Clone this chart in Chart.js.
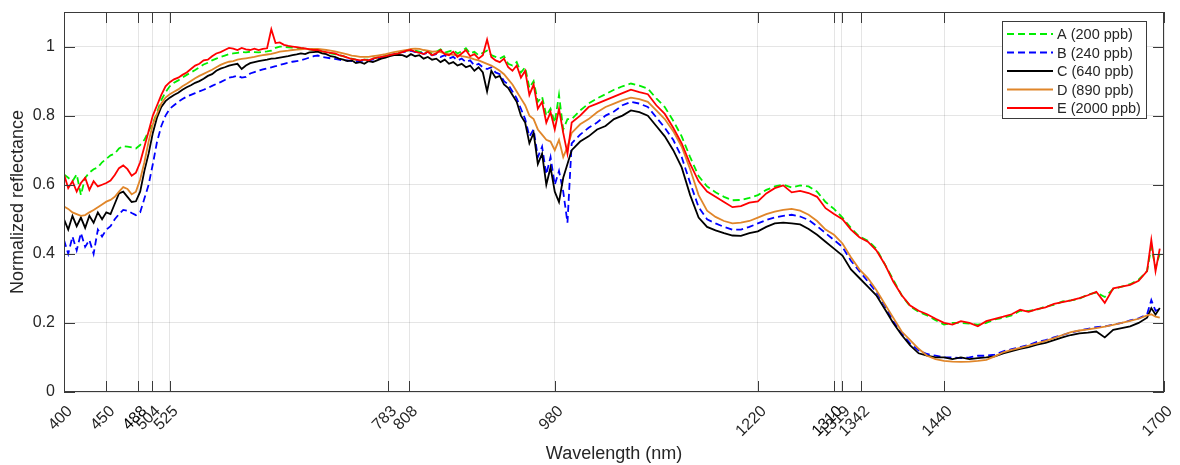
<!DOCTYPE html>
<html>
<head>
<meta charset="utf-8">
<script src="https://cdn.jsdelivr.net/npm/chart.js@4.4.0/dist/chart.umd.min.js"></script>
<style>
  html, body { margin: 0; padding: 0; background: #fff; }
  #wrap { width: 1180px; height: 465px; }
</style>
</head>
<body>
<div id="wrap"><canvas id="spectra" width="1180" height="465"></canvas></div>
<script>
// Wavelength grid (nm): visible detector every 5 nm, NIR detector every 10 nm
const wlVis = [];
for (let w = 400; w <= 995; w += 5) wlVis.push(w);
const wlNir = [];
for (let w = 1000; w <= 1680; w += 10) wlNir.push(w);
wlNir.push(1685, 1690, 1695);

const xTicks = [400, 450, 488, 504, 525, 783, 808, 980, 1220, 1310, 1319, 1342, 1440, 1700];
const yTicks = [0, 0.2, 0.4, 0.6, 0.8, 1];
const darkTicks = [488, 1310];

// A (200 ppb) - green dashed
const aVis = [
  0.63, 0.62, 0.61, 0.63, 0.57, 0.62, 0.635, 0.645, 0.65, 0.665,
  0.675, 0.685, 0.69, 0.705, 0.712, 0.71, 0.708, 0.705, 0.715, 0.73,
  0.755, 0.778, 0.81, 0.845, 0.868, 0.885, 0.895, 0.902, 0.91, 0.918,
  0.925, 0.932, 0.94, 0.948, 0.953, 0.96, 0.965, 0.97, 0.974, 0.978,
  0.98, 0.982, 0.984, 0.983, 0.985, 0.984, 0.983, 0.985, 0.986, 0.988,
  0.996, 1.0, 0.999, 0.998, 0.997, 0.996, 0.995, 0.994, 0.992, 0.99,
  0.988, 0.986, 0.984, 0.98, 0.978, 0.975, 0.972, 0.968, 0.965, 0.962,
  0.96, 0.962, 0.962, 0.965, 0.968, 0.97, 0.973, 0.976, 0.978, 0.98,
  0.985, 0.988, 0.99, 0.988, 0.985, 0.982, 0.986, 0.98, 0.985, 0.992,
  0.982, 0.986, 0.99, 0.98, 0.986, 0.995, 0.98, 0.985, 0.975, 0.982,
  0.988, 0.975, 0.97, 0.965, 0.972, 0.95, 0.945, 0.955, 0.925, 0.94,
  0.88, 0.90, 0.84, 0.855, 0.80, 0.82, 0.78, 0.86, 0.76, 0.79
];
const aNir = [
  0.79, 0.815, 0.835, 0.85, 0.862, 0.875, 0.885, 0.893, 0.887, 0.878,
  0.85, 0.825, 0.785, 0.74, 0.68, 0.625, 0.595, 0.578, 0.565, 0.555,
  0.556, 0.562, 0.57, 0.585, 0.595, 0.60, 0.592, 0.598, 0.595, 0.58,
  0.55, 0.53, 0.505, 0.475, 0.45, 0.438, 0.415, 0.37, 0.325, 0.28,
  0.248, 0.232, 0.222, 0.208, 0.195, 0.2, 0.2, 0.198, 0.195, 0.2,
  0.21, 0.215, 0.222, 0.235, 0.235, 0.238, 0.248, 0.252, 0.262, 0.265,
  0.27, 0.282, 0.288, 0.275, 0.298, 0.305, 0.312, 0.325, 0.35,
  0.42, 0.36, 0.40
];

// B (240 ppb) - blue dashed
const bVis = [
  0.44, 0.40, 0.45, 0.41, 0.46, 0.42, 0.44, 0.40, 0.47, 0.45,
  0.47, 0.48, 0.50, 0.515, 0.527, 0.525, 0.518, 0.512, 0.52, 0.56,
  0.60, 0.66, 0.725, 0.77, 0.80, 0.82, 0.83, 0.84, 0.848, 0.855,
  0.86, 0.865, 0.87, 0.875, 0.88, 0.886, 0.892, 0.897, 0.903, 0.91,
  0.912, 0.916, 0.91, 0.912, 0.922, 0.926, 0.93, 0.934, 0.937, 0.94,
  0.943, 0.947, 0.95, 0.953, 0.956, 0.958, 0.96, 0.964, 0.968, 0.972,
  0.974, 0.97, 0.968, 0.966, 0.964, 0.962, 0.96, 0.96, 0.958, 0.958,
  0.958, 0.96, 0.96, 0.962, 0.965, 0.968, 0.97, 0.975, 0.978, 0.982,
  0.984, 0.986, 0.988, 0.984, 0.985, 0.978, 0.982, 0.975, 0.978, 0.97,
  0.975, 0.965, 0.97, 0.96, 0.965, 0.955, 0.96, 0.945, 0.95, 0.94,
  0.935, 0.94, 0.925, 0.92, 0.90, 0.89, 0.87, 0.85, 0.82, 0.79,
  0.74, 0.76, 0.68, 0.71, 0.63, 0.68, 0.60, 0.64, 0.58, 0.49
];
const bNir = [
  0.72, 0.745, 0.765, 0.78, 0.80, 0.812, 0.83, 0.84, 0.835, 0.825,
  0.795, 0.765, 0.73, 0.68, 0.605, 0.535, 0.5, 0.488, 0.478, 0.47,
  0.47, 0.478, 0.488, 0.498, 0.505, 0.51, 0.513, 0.508, 0.498, 0.48,
  0.46, 0.44, 0.42, 0.38, 0.35, 0.32, 0.29, 0.25, 0.205, 0.17,
  0.14, 0.12, 0.11, 0.105, 0.1, 0.1, 0.098, 0.1, 0.105, 0.105,
  0.108, 0.118, 0.124, 0.13, 0.136, 0.145, 0.15, 0.158, 0.165, 0.172,
  0.178, 0.183, 0.188, 0.19, 0.195, 0.2, 0.207, 0.213, 0.225,
  0.266, 0.235, 0.24
];

// C (640 ppb) - black
const cVis = [
  0.50, 0.47, 0.51, 0.48, 0.505, 0.475, 0.51, 0.49, 0.52, 0.50,
  0.52, 0.515, 0.545, 0.575, 0.58, 0.565, 0.55, 0.552, 0.58, 0.64,
  0.69, 0.75, 0.795, 0.825, 0.842, 0.852, 0.86, 0.866, 0.875, 0.882,
  0.888, 0.895, 0.9, 0.907, 0.915, 0.92, 0.93, 0.936, 0.94, 0.945,
  0.948, 0.95, 0.935, 0.945, 0.952, 0.955, 0.958, 0.96, 0.962, 0.965,
  0.966, 0.968, 0.97, 0.972, 0.975, 0.977, 0.98, 0.978, 0.983, 0.984,
  0.985, 0.98, 0.978, 0.972, 0.97, 0.965, 0.962, 0.958, 0.96, 0.952,
  0.955, 0.95, 0.958, 0.955, 0.96, 0.965, 0.968, 0.972, 0.975, 0.976,
  0.975, 0.97, 0.978, 0.972, 0.975, 0.965, 0.97, 0.962, 0.965, 0.955,
  0.962, 0.95, 0.955, 0.945, 0.95, 0.94, 0.945, 0.93, 0.94, 0.925,
  0.87, 0.93, 0.91, 0.915, 0.89, 0.88, 0.86, 0.84, 0.80, 0.78,
  0.72, 0.75, 0.66, 0.69, 0.60, 0.65, 0.58, 0.55, 0.62, 0.66
];
const cNir = [
  0.70, 0.725, 0.74, 0.76, 0.77, 0.79, 0.80, 0.815, 0.81, 0.80,
  0.77, 0.74, 0.70, 0.65, 0.57, 0.505, 0.478, 0.468, 0.46, 0.453,
  0.452, 0.46, 0.465, 0.478, 0.488, 0.49, 0.488, 0.485, 0.472, 0.455,
  0.435, 0.415, 0.395, 0.355, 0.33, 0.305, 0.28, 0.24, 0.2, 0.165,
  0.135, 0.112, 0.105, 0.1, 0.1, 0.095, 0.1, 0.095, 0.098, 0.1,
  0.103, 0.112, 0.118, 0.125, 0.13, 0.137, 0.142, 0.15, 0.158, 0.165,
  0.17, 0.172, 0.175, 0.158, 0.18, 0.185, 0.19, 0.2, 0.215,
  0.243, 0.224, 0.243
];

// D (890 ppb) - orange
const dVis = [
  0.537, 0.53, 0.52, 0.515, 0.51, 0.512, 0.52, 0.527, 0.535, 0.543,
  0.551, 0.556, 0.565, 0.58, 0.593, 0.588, 0.572, 0.58, 0.615, 0.665,
  0.725, 0.775, 0.806, 0.835, 0.852, 0.862, 0.869, 0.876, 0.885, 0.892,
  0.9, 0.908, 0.915, 0.921, 0.927, 0.933, 0.94, 0.947, 0.952, 0.956,
  0.958, 0.962, 0.964, 0.966, 0.968, 0.97, 0.973, 0.975, 0.977, 0.979,
  0.982, 0.985, 0.987, 0.988, 0.99, 0.991, 0.992, 0.993, 0.993, 0.993,
  0.993, 0.992, 0.99, 0.988, 0.986, 0.983, 0.98, 0.977, 0.974, 0.972,
  0.97, 0.97, 0.97, 0.972, 0.974, 0.976, 0.978, 0.981, 0.984, 0.986,
  0.988, 0.99, 0.993, 0.994, 0.993, 0.99, 0.988, 0.985, 0.986, 0.984,
  0.98, 0.978, 0.976, 0.975, 0.972, 0.97, 0.967, 0.963, 0.96, 0.955,
  0.95, 0.945, 0.938, 0.93, 0.92, 0.905, 0.89, 0.87, 0.85, 0.83,
  0.80, 0.79, 0.76, 0.745, 0.73, 0.725, 0.70, 0.73, 0.68, 0.71
];
const dNir = [
  0.75, 0.775, 0.79, 0.81, 0.825, 0.835, 0.845, 0.852, 0.848, 0.84,
  0.815, 0.79, 0.755, 0.71, 0.645, 0.57, 0.525, 0.507, 0.495, 0.488,
  0.49, 0.495, 0.505, 0.515, 0.522, 0.527, 0.53, 0.525, 0.513, 0.495,
  0.47, 0.455, 0.43, 0.39, 0.355, 0.33, 0.295, 0.255, 0.215, 0.175,
  0.15, 0.125, 0.105, 0.095, 0.09, 0.088, 0.087, 0.088, 0.09, 0.093,
  0.103, 0.115, 0.122, 0.128, 0.134, 0.141, 0.148, 0.156, 0.165, 0.173,
  0.178, 0.181, 0.185, 0.189, 0.194, 0.2, 0.206, 0.212, 0.222,
  0.225, 0.218, 0.215
];

// E (2000 ppb) - red
const eVis = [
  0.63, 0.59, 0.61, 0.58, 0.605, 0.62, 0.585, 0.61, 0.595, 0.60,
  0.605, 0.612, 0.628, 0.648, 0.656, 0.645, 0.626, 0.635, 0.665, 0.71,
  0.755, 0.80, 0.83, 0.86, 0.885, 0.897, 0.905, 0.91, 0.918, 0.925,
  0.935, 0.945, 0.95, 0.96, 0.962, 0.972, 0.98, 0.984, 0.99, 0.996,
  0.994, 0.99, 0.996, 0.992, 0.99, 0.994, 0.99, 0.993, 0.995, 1.05,
  1.01, 1.012, 1.005, 1.002, 1.0, 0.998, 0.996, 0.995, 0.992, 0.99,
  0.99, 0.986, 0.984, 0.982, 0.98, 0.975, 0.972, 0.968, 0.964, 0.962,
  0.96, 0.962, 0.96, 0.965, 0.968, 0.97, 0.972, 0.975, 0.978, 0.98,
  0.984, 0.988, 0.99, 0.985, 0.982, 0.978, 0.985, 0.975, 0.98, 0.99,
  0.978, 0.975, 0.985, 0.97, 0.98, 0.99, 0.972, 0.978, 0.965, 0.975,
  1.02, 0.97, 0.96, 0.955, 0.965, 0.94, 0.93, 0.945, 0.91, 0.93,
  0.86, 0.89, 0.82, 0.84, 0.78, 0.81, 0.76, 0.82, 0.75, 0.69
];
const eNir = [
  0.78, 0.80, 0.825, 0.835, 0.845, 0.855, 0.865, 0.875, 0.868, 0.862,
  0.83, 0.805, 0.765, 0.72, 0.66, 0.61, 0.58, 0.565, 0.55, 0.535,
  0.538, 0.548, 0.552, 0.575, 0.59, 0.598, 0.578, 0.582, 0.576, 0.565,
  0.532, 0.515, 0.50, 0.47, 0.448, 0.435, 0.41, 0.37, 0.32, 0.28,
  0.25, 0.235, 0.225, 0.212, 0.20, 0.195, 0.205, 0.2, 0.19, 0.205,
  0.212, 0.218, 0.225, 0.238, 0.232, 0.24, 0.245, 0.255, 0.26, 0.265,
  0.272, 0.28, 0.29, 0.258, 0.3, 0.305, 0.31, 0.322, 0.35,
  0.44, 0.35, 0.415
];

const wavelengths = wlVis.concat(wlNir);

function toPoints(vis, nir) {
  const vals = vis.concat(nir);
  if (vals.length !== wavelengths.length) console.warn('length mismatch', vals.length, wavelengths.length);
  return wavelengths.map((w, i) => ({ x: w, y: vals[i] }));
}

const FONT = "'Liberation Sans', Arial, sans-serif";
const TXT = '#262626';

const series = [
  { label: 'A (200 ppb)',  data: toPoints(aVis, aNir), color: '#00ee00', dash: [7, 4], order: 5 },
  { label: 'B (240 ppb)',  data: toPoints(bVis, bNir), color: '#0000ff', dash: [7, 4], order: 4 },
  { label: 'C (640 ppb)',  data: toPoints(cVis, cNir), color: '#000000', dash: [],     order: 3 },
  { label: 'D (890 ppb)',  data: toPoints(dVis, dNir), color: '#e0862a', dash: [],     order: 2 },
  { label: 'E (2000 ppb)', data: toPoints(eVis, eNir), color: '#ff0000', dash: [],     order: 1 }
];

// axes box, inward tick marks and the boxed legend (MATLAB look)
const framePlugin = {
  id: 'frame',
  afterDraw(chart) {
    const { ctx, chartArea: a, scales } = chart;
    ctx.save();
    ctx.strokeStyle = '#3a3a3a';
    ctx.lineWidth = 1;
    ctx.strokeRect(a.left + 0.5, a.top + 0.5, a.right - a.left - 1, a.bottom - a.top - 1);
    ctx.beginPath();
    xTicks.forEach(v => {
      const px = Math.round(scales.x.getPixelForValue(v)) + 0.5;
      ctx.moveTo(px, a.bottom); ctx.lineTo(px, a.bottom - 11);
      ctx.moveTo(px, a.top); ctx.lineTo(px, a.top + 11);
    });
    yTicks.forEach(v => {
      const py = Math.round(scales.y.getPixelForValue(v)) + 0.5;
      ctx.moveTo(a.left, py); ctx.lineTo(a.left + 11, py);
      ctx.moveTo(a.right, py); ctx.lineTo(a.right - 11, py);
    });
    ctx.stroke();

    // legend
    const bw = 144, bh = 97;
    const bx = a.right - 18 - bw, by = a.top + 9;
    ctx.fillStyle = '#fff';
    ctx.fillRect(bx, by, bw, bh);
    ctx.strokeStyle = '#3a3a3a';
    ctx.strokeRect(bx + 0.5, by + 0.5, bw, bh);
    ctx.font = '14.5px ' + FONT;
    ctx.textBaseline = 'middle';
    ctx.textAlign = 'left';
    series.forEach((s, i) => {
      const cy = by + 13 + i * 18.5;
      ctx.beginPath();
      ctx.setLineDash(s.dash);
      ctx.strokeStyle = s.color;
      ctx.lineWidth = 1.8;
      ctx.moveTo(bx + 5, cy); ctx.lineTo(bx + 51, cy);
      ctx.stroke();
      ctx.setLineDash([]);
      ctx.fillStyle = TXT;
      ctx.fillText(s.label, bx + 55, cy + 1);
    });
    ctx.restore();
  }
};

const ctx = document.getElementById('spectra').getContext('2d');
new Chart(ctx, {
  type: 'line',
  data: {
    datasets: series.map(s => ({
      label: s.label,
      data: s.data,
      borderColor: s.color,
      borderDash: s.dash,
      borderWidth: 1.8,
      pointRadius: 0,
      tension: 0,
      fill: false,
      order: s.order
    }))
  },
  options: {
    responsive: false,
    animation: false,
    devicePixelRatio: 1,
    layout: { padding: { top: 12, right: 16, left: 0, bottom: 0 } },
    plugins: { legend: { display: false }, tooltip: { enabled: false } },
    scales: {
      x: {
        type: 'linear',
        min: 400,
        max: 1700,
        afterBuildTicks: s => { s.ticks = xTicks.map(v => ({ value: v })); },
        afterFit: s => { s.height = 73; s.paddingLeft = 0; s.paddingRight = 0; },
        border: { display: false },
        grid: { color: 'rgba(0,0,0,0.10)', drawTicks: false },
        ticks: {
          autoSkip: false,
          maxRotation: 45,
          minRotation: 45,
          padding: 10,
          labelOffset: 6,
          font: { family: FONT, size: 16 },
          color: c => darkTicks.includes(c.tick.value) ? '#000' : TXT,
          callback: v => String(v)
        },
        title: {
          display: true,
          text: 'Wavelength (nm)',
          font: { family: FONT, size: 18 },
          color: TXT,
          padding: { top: 2, bottom: 0 }
        }
      },
      y: {
        min: 0,
        max: 1.1,
        afterBuildTicks: s => { s.ticks = yTicks.map(v => ({ value: v })); },
        afterFit: s => { s.width = 64; s.paddingTop = 0; s.paddingBottom = 0; },
        border: { display: false },
        grid: { color: 'rgba(0,0,0,0.10)', drawTicks: false },
        ticks: {
          padding: 9,
          font: { family: FONT, size: 16 },
          color: TXT,
          callback: v => String(+v.toFixed(1))
        },
        title: {
          display: true,
          text: 'Normalized reflectance',
          font: { family: FONT, size: 18 },
          color: TXT,
          padding: { top: 7, bottom: 0 }
        }
      }
    }
  },
  plugins: [framePlugin]
});
</script>
</body>
</html>
